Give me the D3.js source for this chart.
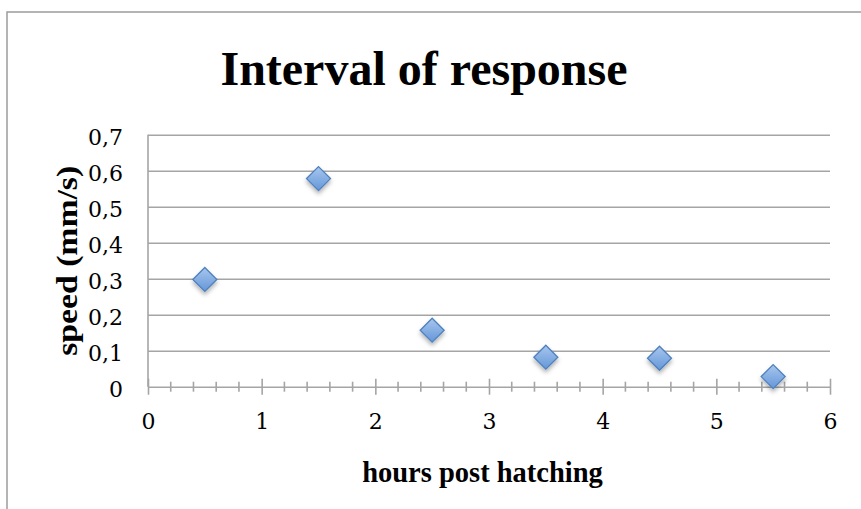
<!DOCTYPE html>
<html>
<head>
<meta charset="utf-8">
<script src="https://cdn.jsdelivr.net/npm/d3@7"></script>
<style>
  body { margin: 0; background: #fff; }
  svg { display: block; }
</style>
</head>
<body>
<div id="chart"></div>
<script>
// values
const hours = [0.5, 1.5, 2.5, 3.5, 4.5, 5.5];
const speed = [0.298, 0.578, 0.157, 0.082, 0.079, 0.028];
const xTicks = [0, 1, 2, 3, 4, 5, 6];
const yTicks = [0, 0.1, 0.2, 0.3, 0.4, 0.5, 0.6, 0.7];

const width = 861,
    height = 509,
    plot = {left: 148, right: 830, top: 134.7, bottom: 386.7};

const grey = "#a5a5a5";

const svg = d3.select("#chart")
    .append("svg")
    .attr("width", width)
    .attr("height", height);

// gradient + shadow for the diamonds
const defs = svg.append("defs");
const grad = defs.append("linearGradient")
    .attr("id", "fillGrad")
    .attr("x1", 0).attr("y1", 0).attr("x2", 0).attr("y2", 1);
grad.append("stop").attr("offset", "0%").attr("stop-color", "#a8c6ee");
grad.append("stop").attr("offset", "100%").attr("stop-color", "#6497d8");

const shadow = defs.append("filter")
    .attr("id", "shadow")
    .attr("x", "-50%").attr("y", "-50%")
    .attr("width", "200%").attr("height", "200%");
shadow.append("feDropShadow")
    .attr("dx", 0).attr("dy", 3)
    .attr("stdDeviation", 2)
    .attr("flood-color", "#000")
    .attr("flood-opacity", 0.3);

// chart frame (cropped on the right and bottom)
svg.append("rect")
    .attr("x", 7)
    .attr("y", 12)
    .attr("width", 900)
    .attr("height", 560)
    .attr("fill", "none")
    .attr("stroke", "#9c9c9c")
    .attr("stroke-width", 1.5);

const x = d3.scaleLinear().domain([0, 6]).range([plot.left, plot.right]);
const y = d3.scaleLinear().domain([0, 0.7]).range([plot.bottom, plot.top]);

// horizontal gridlines
const grid = svg.append("g")
    .attr("transform", "translate(" + plot.left + ",0)")
    .call(d3.axisLeft(y)
        .tickValues(yTicks.slice(1))
        .tickSize(-(plot.right - plot.left))
        .tickFormat(""));
grid.select(".domain").remove();
grid.selectAll("line").attr("stroke", grey).attr("stroke-width", 1.6);

// y axis line
svg.append("line")
    .attr("x1", plot.left).attr("x2", plot.left)
    .attr("y1", plot.top).attr("y2", plot.bottom)
    .attr("stroke", grey)
    .attr("stroke-width", 1.6);

// y labels
const yAxis = svg.append("g")
    .attr("transform", "translate(" + plot.left + ",0)")
    .call(d3.axisLeft(y)
        .tickValues(yTicks)
        .tickSize(0)
        .tickPadding(25)
        .tickFormat(d => d3.format(".1~f")(d).replace(".", ",")));
yAxis.select(".domain").remove();
yAxis.selectAll("text")
    .attr("dy", "0.45em")
    .style("font-family", "'DejaVu Serif'")
    .style("font-size", "22px")
    .attr("fill", "#000");

// x axis: minor ticks, major ticks, labels
const minor = d3.range(0, 30).map(i => i * 0.2).filter(v => Math.abs(v - Math.round(v)) > 1e-6);
svg.append("g")
    .selectAll("line")
    .data(minor)
    .join("line")
    .attr("x1", d => x(d)).attr("x2", d => x(d))
    .attr("y1", plot.bottom - 5).attr("y2", plot.bottom + 5)
    .attr("stroke", grey)
    .attr("stroke-width", 1.6);

const xAxis = svg.append("g")
    .attr("transform", "translate(0," + plot.bottom + ")")
    .call(d3.axisBottom(x)
        .tickValues(xTicks)
        .tickSize(0)
        .tickPadding(27)
        .tickFormat(d3.format("d")));
xAxis.select(".domain")
    .attr("stroke", grey)
    .attr("stroke-width", 1.6);
xAxis.selectAll(".tick line")
    .attr("y1", -8).attr("y2", 8)
    .attr("stroke", grey)
    .attr("stroke-width", 1.6);
xAxis.selectAll("text")
    .style("font-family", "'DejaVu Serif'")
    .style("font-size", "22px")
    .attr("fill", "#000");

// diamonds
const r = 12;
svg.append("g")
    .selectAll("path")
    .data(hours.map((h, i) => [h, speed[i]]))
    .join("path")
    .attr("d", d => {
        const cx = x(d[0]), cy = y(d[1]);
        return "M" + cx + "," + (cy - r) + "L" + (cx + r) + "," + cy +
            "L" + cx + "," + (cy + r) + "L" + (cx - r) + "," + cy + "Z";
    })
    .attr("fill", "url(#fillGrad)")
    .attr("stroke", "#4f81bd")
    .attr("stroke-width", 1.3)
    .attr("filter", "url(#shadow)");

// titles
svg.append("text")
    .attr("x", 424)
    .attr("y", 85)
    .attr("text-anchor", "middle")
    .style("font-family", "'Liberation Serif'")
    .style("font-weight", "bold")
    .style("font-size", "48px")
    .text("Interval of response");

svg.append("text")
    .attr("x", 482.5)
    .attr("y", 481.5)
    .attr("text-anchor", "middle")
    .style("font-family", "'Liberation Serif'")
    .style("font-weight", "bold")
    .style("font-size", "28.5px")
    .text("hours post hatching");

svg.append("text")
    .attr("transform", "translate(77,260.8) rotate(-90)")
    .attr("text-anchor", "middle")
    .attr("textLength", 190)
    .attr("lengthAdjust", "spacingAndGlyphs")
    .style("font-family", "'Liberation Serif'")
    .style("font-weight", "bold")
    .style("font-size", "29px")
    .text("speed (mm/s)");
</script>
</body>
</html>
